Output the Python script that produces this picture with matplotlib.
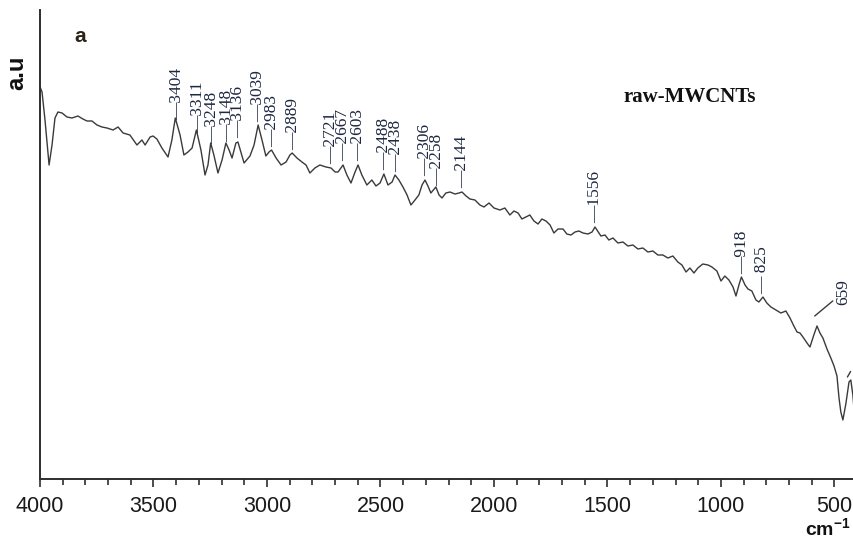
import numpy as np
import matplotlib
matplotlib.use("Agg")
from matplotlib import pyplot as plt

# FTIR spectrum of raw MWCNTs (a.u. arbitrary)
wavenumber = [3998, 3991, 3978, 3960, 3947, 3934, 3921, 3903, 3881, 3859,
              3833, 3811, 3793, 3771, 3749, 3727, 3705, 3678, 3656, 3634,
              3604, 3573, 3551, 3537, 3515, 3502, 3485, 3463, 3436, 3419,
              3404, 3383, 3366, 3348, 3330, 3311, 3291, 3273, 3260, 3248,
              3234, 3216, 3198, 3181, 3167, 3154, 3137, 3128, 3115, 3101,
              3075, 3057, 3039, 3022, 3005, 2991, 2980, 2960, 2938, 2916,
              2899, 2889, 2868, 2846, 2828, 2811, 2789, 2767, 2740, 2718,
              2700, 2687, 2665, 2648, 2630, 2612, 2599, 2582, 2560, 2538,
              2520, 2502, 2485, 2467, 2449, 2436, 2419, 2401, 2383, 2366,
              2348, 2331, 2317, 2304, 2291, 2278, 2256, 2242, 2229, 2212,
              2194, 2172, 2154, 2141, 2123, 2106, 2084, 2062, 2044, 2022,
              2000, 1974, 1952, 1930, 1912, 1894, 1877, 1859, 1842, 1824,
              1806, 1789, 1771, 1753, 1736, 1718, 1696, 1679, 1661, 1643,
              1626, 1608, 1586, 1568, 1555, 1529, 1511, 1494, 1476, 1454,
              1432, 1410, 1388, 1366, 1344, 1322, 1300, 1278, 1256, 1234,
              1212, 1190, 1172, 1154, 1137, 1119, 1102, 1080, 1057, 1040,
              1018, 1000, 983, 965, 947, 934, 921, 910, 894, 881,
              864, 846, 833, 815, 798, 780, 758, 736, 714, 696,
              679, 665, 652, 639, 621, 608, 591, 577, 564, 551,
              533, 516, 502, 489, 480, 472, 463, 450, 436, 428,
              419, 410, 401]
intensity = [391, 387, 359, 314, 334, 361, 367, 366, 362, 361,
             363, 360, 358, 358, 354, 352, 351, 349, 352, 346,
             344, 334, 339, 334, 342, 343, 340, 331, 322, 339,
             361, 344, 324, 327, 331, 349, 329, 304, 314, 336,
             324, 306, 319, 336, 329, 321, 336, 337, 327, 316,
             323, 334, 354, 339, 323, 327, 329, 321, 314, 317,
             324, 326, 321, 317, 314, 306, 311, 314, 312, 311,
             307, 307, 314, 304, 296, 307, 314, 304, 294, 299,
             293, 296, 305, 294, 297, 304, 299, 292, 284, 274,
             279, 284, 294, 299, 293, 286, 292, 284, 281, 286,
             287, 285, 286, 287, 283, 280, 279, 274, 272, 276,
             271, 269, 271, 264, 268, 266, 260, 262, 264, 258,
             255, 260, 258, 254, 246, 250, 250, 245, 244, 247,
             248, 246, 245, 247, 252, 243, 244, 239, 241, 236,
             237, 233, 234, 230, 231, 227, 228, 224, 224, 221,
             223, 217, 214, 207, 211, 206, 211, 215, 214, 212,
             208, 198, 203, 199, 192, 183, 194, 202, 194, 190,
             188, 179, 177, 182, 176, 172, 169, 166, 168, 161,
             153, 147, 146, 142, 136, 132, 144, 153, 146, 141,
             130, 121, 113, 103, 81, 67, 59, 75, 97, 99,
             84, 59, 29]

# peak labels and where they sit along the axis
peak_labels = ["3404", "3311", "3248", "3148", "3136", "3039", "2983", "2889",
               "2721", "2667", "2603", "2488", "2438", "2306", "2258", "2144",
               "1556", "918", "825"]
peak_pos = [3397, 3304, 3242, 3176, 3128, 3040, 2978, 2886,
            2718, 2665, 2599, 2485, 2432, 2304, 2251, 2141,
            1555, 908, 820]

plt.rcParams["mathtext.fontset"] = "custom"
plt.rcParams["mathtext.bf"] = "Liberation Sans:bold"
plt.rcParams["mathtext.rm"] = "Liberation Sans"

fig = plt.figure(figsize=(8.54, 5.43), dpi=100)
ax = fig.add_axes([40 / 854, 64 / 543, 814 / 854, 469 / 543])

ink = "#3a3a3a"
ax.plot(wavenumber, intensity, color=ink, lw=1.0)

ax.set_xlim(4000, 414)
ax.set_ylim(0, 469)

for s in ["top", "right"]:
    ax.spines[s].set_visible(False)
for s in ["left", "bottom"]:
    ax.spines[s].set_color("#2e2e2e")
    ax.spines[s].set_linewidth(1.4)

ax.set_xticks(np.arange(4000, 499, -500))
ax.set_xticks(np.arange(4000, 414, -100), minor=True)
ax.set_yticks([])
ax.tick_params(axis="x", which="major", length=6, width=1.2, color="#2e2e2e",
               pad=6, labelsize=15.5, labelcolor="#1a1a1a")
ax.tick_params(axis="x", which="minor", length=4, width=1.2, color="#2e2e2e")
for lab in ax.get_xticklabels():
    lab.set_family("Liberation Sans")

lab_col = "#1c2741"
wn_sorted = np.array(wavenumber[::-1])
in_sorted = np.array(intensity[::-1])
for txt, pos in zip(peak_labels, peak_pos):
    base = np.interp(pos, wn_sorted, in_sorted) + 4
    s = "\u2014 " + txt if txt == "825" else "\u2014" + txt
    ax.text(pos, base, s, rotation=90, ha="center", va="bottom",
            family="Liberation Serif", fontsize=12.5, color=lab_col)

# the two labels on the far right have slanted leaders
pk = np.interp(577, wn_sorted, in_sorted)
ax.annotate("659", xy=(587, pk + 10), xytext=(15, 8), textcoords="offset points",
            rotation=90, ha="left", va="bottom", family="Liberation Serif",
            fontsize=12.5, color=lab_col,
            arrowprops=dict(arrowstyle="-", color=ink, lw=1.0,
                            shrinkA=0, shrinkB=0))
pk2 = np.interp(436, wn_sorted, in_sorted)
ax.annotate("513", xy=(443, pk2 + 5), xytext=(3, 6), textcoords="offset points",
            rotation=90, ha="left", va="bottom", family="Liberation Serif",
            fontsize=12.5, color=lab_col, annotation_clip=False,
            arrowprops=dict(arrowstyle="-", color=ink, lw=1.0,
                            shrinkA=0, shrinkB=0))

fig.text(690 / 854, 1 - 97 / 543, "raw-MWCNTs", ha="center", va="center",
         family="Liberation Serif", weight="bold", fontsize=15, color="#111111")
fig.text(80 / 854, 1 - 36 / 543, "a", ha="center", va="center",
         family="Liberation Sans", weight="bold", fontsize=15, color="#2a2418")
fig.text(17 / 854, 1 - 73 / 543, "a.u", ha="center", va="center", rotation=90,
         family="Liberation Sans", weight="bold", fontsize=17, color="#111111")
fig.text(851 / 854, 1 - 528 / 543, r"$\mathbf{cm^{-1}}$", ha="right",
         va="center", fontsize=14, color="#111111")

fig.savefig("out.png", dpi=100)
